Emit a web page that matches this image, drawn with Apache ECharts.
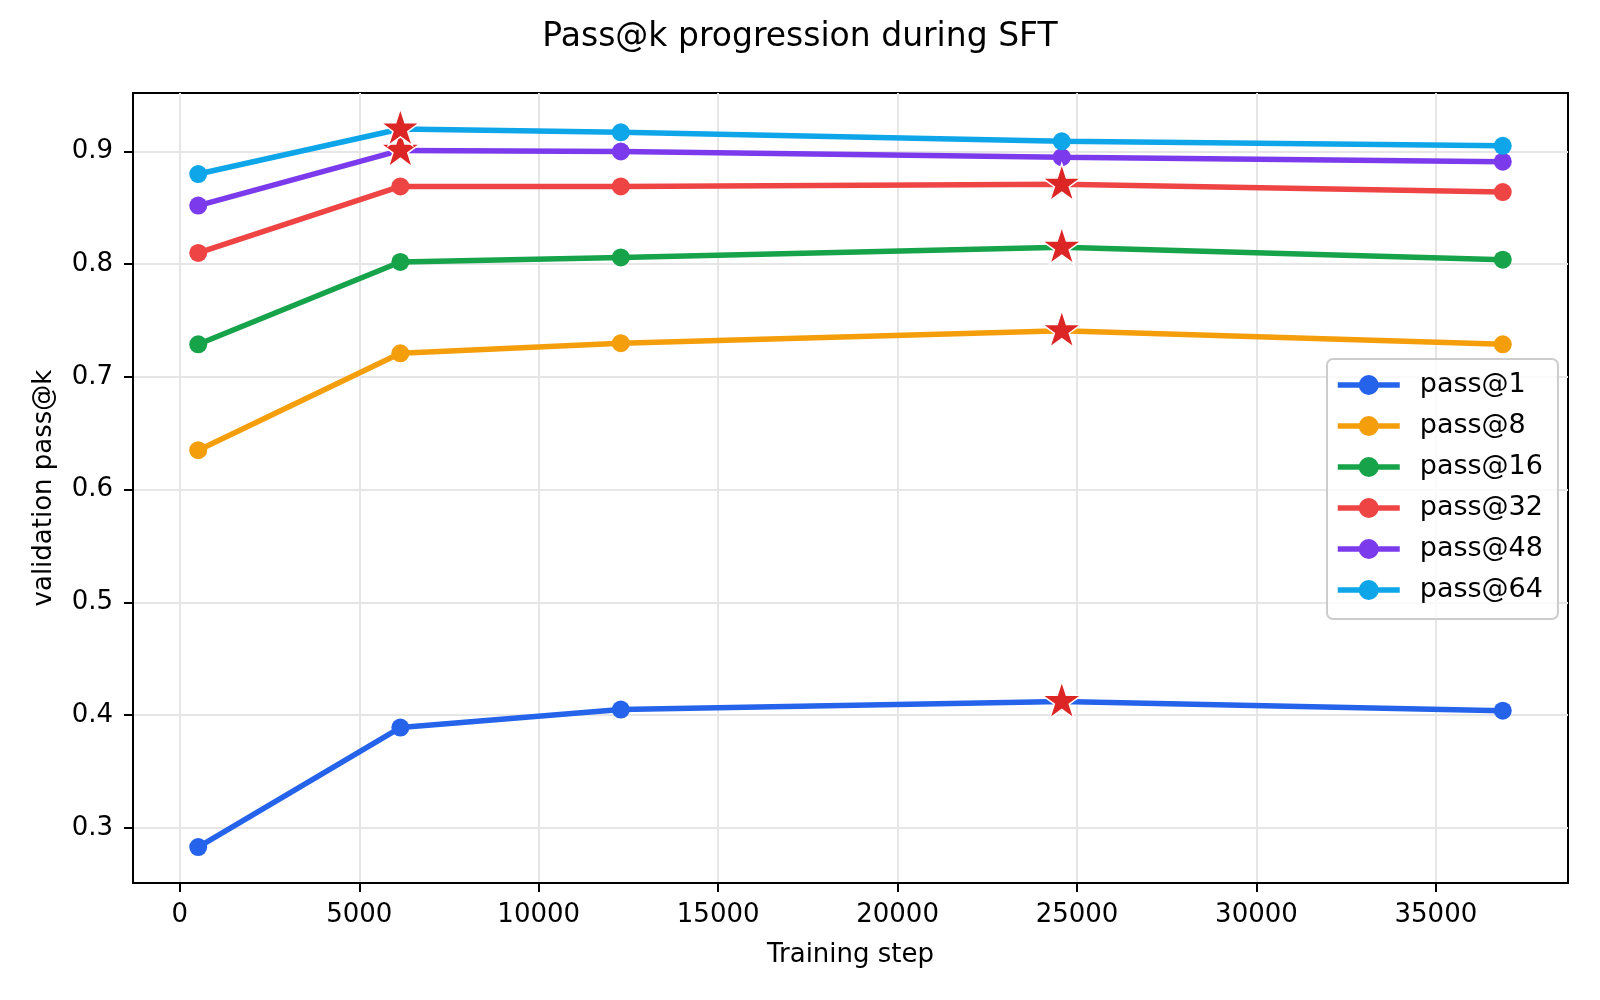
<!DOCTYPE html>
<html>
<head>
<meta charset="utf-8">
<title>Pass@k progression during SFT</title>
<script src="https://cdn.jsdelivr.net/npm/echarts@6/dist/echarts.min.js"></script>
<style>
  html, body { margin: 0; padding: 0; background: #fff; }
  #chart { width: 1600px; height: 1000px; }
</style>
</head>
<body>
<div id="chart"></div>
<script>
// data
const steps = [512, 6144, 12288, 24576, 36864]
const seriesNames = ['pass@1', 'pass@8', 'pass@16', 'pass@32', 'pass@48', 'pass@64']
const pass1 = [0.283, 0.389, 0.405, 0.412, 0.404]
const pass8 = [0.635, 0.721, 0.730, 0.741, 0.729]
const pass16 = [0.729, 0.802, 0.806, 0.815, 0.804]
const pass32 = [0.810, 0.869, 0.869, 0.871, 0.864]
const pass48 = [0.852, 0.901, 0.900, 0.895, 0.891]
const pass64 = [0.880, 0.920, 0.917, 0.909, 0.905]
const xTicks = [0, 5000, 10000, 15000, 20000, 25000, 30000, 35000]
const yTicks = [0.3, 0.4, 0.5, 0.6, 0.7, 0.8, 0.9]

const colors = ['#2563eb', '#f59e0b', '#16a34a', '#ef4444', '#7c3aed', '#0ea5e9']
const allValues = [pass1, pass8, pass16, pass32, pass48, pass64]
const font = 'DejaVu Sans'
const starPath = 'path://M50,0 L61.23,34.55 L97.55,34.55 L68.17,55.9 L79.39,90.45 L50,69.1 L20.61,90.45 L31.83,55.9 L2.45,34.55 L38.77,34.55 Z'

const chart = echarts.init(document.getElementById('chart'))

let series = seriesNames.map((name, i) => ({
  name: name,
  type: 'line',
  data: steps.map((s, j) => [s, allValues[i][j]]),
  symbol: 'circle',
  symbolSize: 18,
  color: colors[i],
  lineStyle: { width: 5.5, color: colors[i] },
  itemStyle: { color: colors[i] },
  emphasis: { disabled: true },
  z: 2 + i
}))

// best step of each curve gets a red star
let bestPoints = allValues.map(vals => {
  let k = vals.indexOf(Math.max(...vals))
  return [steps[k], vals[k]]
})
series.push({
  name: 'best',
  type: 'scatter',
  data: bestPoints,
  symbol: starPath,
  symbolSize: 39,
  symbolKeepAspect: true,
  // path bbox is centred, so lift it to put the star's own centre on the point
  symbolOffset: [0, -1.9],
  itemStyle: { color: '#dc2626', borderColor: '#ffffff', borderWidth: 1.5, opacity: 1 },
  emphasis: { disabled: true },
  z: 20
})

const option = {
  animation: false,
  textStyle: { fontFamily: font },
  title: {
    text: 'Pass@k progression during SFT',
    left: 'center',
    top: 16,
    textStyle: { fontFamily: font, fontSize: 33, fontWeight: 'normal', color: '#000' }
  },
  legend: {
    orient: 'vertical',
    left: 1327,
    top: 359,
    data: seriesNames,
    itemWidth: 62,
    itemHeight: 25,
    itemGap: 11,
    padding: [11, 15, 14, 8],
    backgroundColor: 'rgba(255,255,255,0.8)',
    borderColor: '#cccccc',
    borderWidth: 2,
    borderRadius: 6,
    lineStyle: { width: 5.5 },
    textStyle: { fontFamily: font, fontSize: 27, color: '#000', lineHeight: 30, padding: [0, 0, 0, 15] }
  },
  grid: {
    left: 133,
    right: 32,
    top: 93,
    bottom: 117,
    show: true,
    borderColor: '#000',
    borderWidth: 2,
    backgroundColor: 'transparent'
  },
  xAxis: {
    type: 'value',
    min: -1305.6,
    max: 38681.6,
    name: 'Training step',
    nameLocation: 'middle',
    nameGap: 59,
    nameTextStyle: { fontFamily: font, fontSize: 26, color: '#000' },
    axisLine: { show: true, onZero: false, lineStyle: { color: '#000', width: 2 } },
    axisTick: { show: true, inside: false, length: 9, customValues: xTicks, lineStyle: { color: '#000', width: 2 } },
    axisLabel: {
      margin: 19,
      fontFamily: font,
      fontSize: 26,
      color: '#000',
      customValues: xTicks,
      formatter: v => String(v)
    },
    splitLine: { show: true, lineStyle: { color: '#e6e6e6', width: 2 } }
  },
  yAxis: {
    type: 'value',
    min: 0.2511,
    max: 0.9519,
    name: 'validation pass@k',
    nameLocation: 'middle',
    nameGap: 76,
    nameTextStyle: { fontFamily: font, fontSize: 26, color: '#000' },
    axisLine: { show: true, onZero: false, lineStyle: { color: '#000', width: 2 } },
    axisTick: { show: true, inside: false, length: 9, customValues: yTicks, lineStyle: { color: '#000', width: 2 } },
    axisLabel: {
      margin: 20,
      fontFamily: font,
      fontSize: 26,
      color: '#000',
      customValues: yTicks,
      formatter: v => v.toFixed(1)
    },
    splitLine: { show: true, lineStyle: { color: '#e6e6e6', width: 2 } }
  },
  series: series
}

chart.setOption(option)
</script>
</body>
</html>
